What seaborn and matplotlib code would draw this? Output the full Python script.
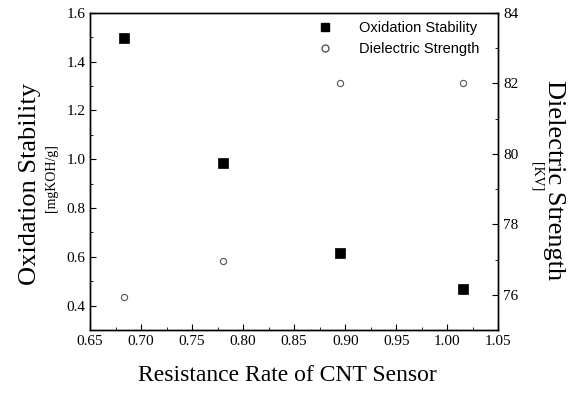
import numpy as np
import pandas as pd
import seaborn as sns
import matplotlib.pyplot as plt
from matplotlib.ticker import MultipleLocator, AutoMinorLocator
from matplotlib.lines import Line2D

resistance = [0.683, 0.780, 0.895, 1.015]
oxidation = [1.495, 0.985, 0.615, 0.470]
dielectric = [75.95, 76.95, 82.0, 82.0]

df = pd.DataFrame({"resistance": resistance, "oxidation": oxidation, "dielectric": dielectric})

sns.set_style("ticks")
plt.rcParams["font.family"] = ["Liberation Serif", "DejaVu Serif"]
plt.rcParams["text.color"] = "black"
plt.rcParams["xtick.color"] = "black"
plt.rcParams["ytick.color"] = "black"
plt.rcParams["axes.edgecolor"] = "black"

fig = plt.figure(figsize=(5.74, 4.01), dpi=100)
ax = fig.add_axes([0.157, 0.177, 0.711, 0.791])
ax2 = ax.twinx()

sns.scatterplot(data=df, x="resistance", y="oxidation", ax=ax, marker="s", s=55,
                color="black", edgecolor="black", linewidth=0.5)
sns.scatterplot(data=df, x="resistance", y="dielectric", ax=ax2, marker="o", s=20,
                facecolor="white", edgecolor="#555555", linewidth=0.8)

ax.set_xlim(0.65, 1.05)
ax.set_ylim(0.3, 1.6)
ax2.set_ylim(75, 84)
ax.xaxis.set_major_locator(MultipleLocator(0.05))
ax.xaxis.set_minor_locator(AutoMinorLocator(2))
ax.set_yticks([0.4, 0.6, 0.8, 1.0, 1.2, 1.4, 1.6])
ax2.set_yticks([76, 78, 80, 82, 84])
ax.yaxis.set_minor_locator(AutoMinorLocator(2))
ax2.yaxis.set_minor_locator(AutoMinorLocator(2))

ax.tick_params(axis="both", which="both", direction="in", labelsize=11, top=False,
               colors="black")
ax.tick_params(which="major", length=4)
ax.tick_params(which="minor", length=2)
ax2.tick_params(axis="y", which="both", direction="in", labelsize=11, colors="black")
ax2.tick_params(which="major", length=4)
ax2.tick_params(which="minor", length=2)
ax.xaxis.set_major_formatter(plt.FormatStrFormatter("%.2f"))
ax.yaxis.set_major_formatter(plt.FormatStrFormatter("%.1f"))
for sp in list(ax.spines.values()) + list(ax2.spines.values()):
    sp.set_linewidth(1.0)
    sp.set_color("black")

ax.set_xlabel("")
ax.set_ylabel("")
ax2.set_ylabel("")
fig.text(0.50, 0.063, "Resistance Rate of CNT Sensor", ha="center", va="center", fontsize=17)
fig.text(0.052, 0.54, "Oxidation Stability", rotation=90, ha="center", va="center", fontsize=19)
fig.text(0.09, 0.555, "[mgKOH/g]", rotation=90, ha="center", va="center", fontsize=10)
fig.text(0.965, 0.55, "Dielectric Strength", rotation=270, ha="center", va="center", fontsize=19)
fig.text(0.935, 0.56, "[KV]", rotation=270, ha="center", va="center", fontsize=10)

handles = [
    Line2D([], [], marker="s", color="black", linestyle="none", markersize=6),
    Line2D([], [], marker="o", markerfacecolor="white", markeredgecolor="#555555",
           linestyle="none", markersize=5),
]
ax.legend(handles, ["Oxidation Stability", "Dielectric Strength"], loc="upper right",
          frameon=False, prop={"family": "Liberation Sans", "size": 10.5},
          bbox_to_anchor=(0.985, 1.015), handletextpad=1.3, labelspacing=0.5)

fig.savefig("out.png", dpi=100)
